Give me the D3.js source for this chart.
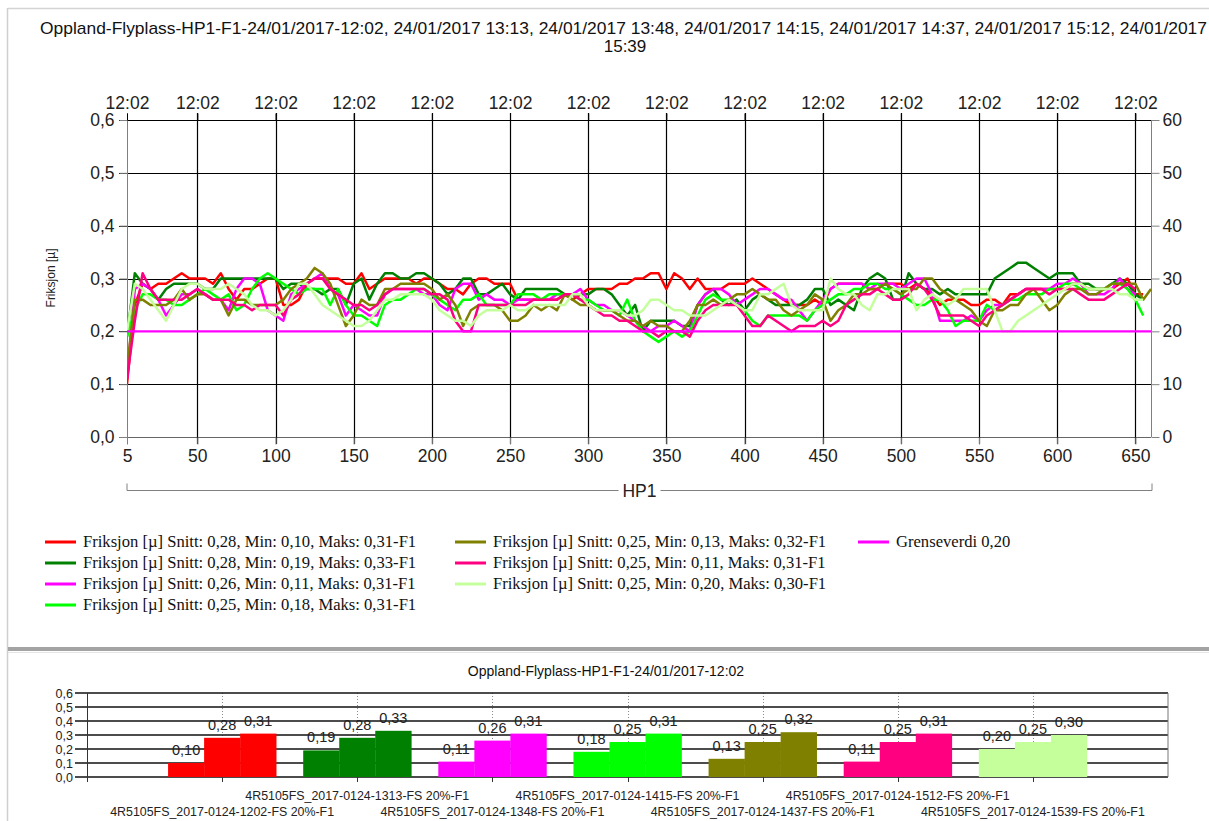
<!DOCTYPE html>
<html>
<head>
<meta charset="utf-8">
<script src="https://cdn.jsdelivr.net/npm/d3@7"></script>
<style>
  html, body { margin: 0; padding: 0; background: #fff; }
  svg { display: block; }
</style>
</head>
<body>
<svg id="chart" width="1209" height="821"></svg>
<script>
// ---------------- DATA ----------------
const chartTitle1 = "Oppland-Flyplass-HP1-F1-24/01/2017-12:02, 24/01/2017 13:13, 24/01/2017 13:48, 24/01/2017 14:15, 24/01/2017 14:37, 24/01/2017 15:12, 24/01/2017";
const chartTitle2 = "15:39";
const barTitle = "Oppland-Flyplass-HP1-F1-24/01/2017-12:02";
const xAxisName = "HP1";
const yAxisName = "Friksjon [µ]";

const distance = [5,10,15,20,25,30,35,40,45,50,55,60,65,70,75,80,85,90,95,100,
  105,110,115,120,125,130,135,140,145,150,155,160,165,170,175,180,185,190,195,200,
  205,210,215,220,225,230,235,240,245,250,255,260,265,270,275,280,285,290,295,300,
  305,310,315,320,325,330,335,340,345,350,355,360,365,370,375,380,385,390,395,400,
  405,410,415,420,425,430,435,440,445,450,455,460,465,470,475,480,485,490,495,500,
  505,510,515,520,525,530,535,540,545,550,555,560,565,570,575,580,585,590,595,600,
  605,610,615,620,625,630,635,640,645,650,655,660];

const xTicks = [5,50,100,150,200,250,300,350,400,450,500,550,600,650];
const topTickLabel = "12:02";
const yTicks = [0,0.1,0.2,0.3,0.4,0.5,0.6];
const yRightTicks = [0,10,20,30,40,50,60];
const limitValue = 0.20;

const seriesColors = ["#ff0000","#008000","#ff00ff","#00ff00","#808000","#ff0080","#c4ff9c"];
const limitColor = "#ff00ff";

const redVals = [0.10,0.25,0.29,0.28,0.29,0.29,0.30,0.31,0.30,0.30,
  0.30,0.29,0.31,0.28,0.26,0.28,0.28,0.29,0.30,0.30,
  0.25,0.25,0.26,0.29,0.30,0.30,0.30,0.30,0.29,0.29,
  0.31,0.28,0.29,0.30,0.30,0.30,0.30,0.29,0.30,0.30,
  0.29,0.28,0.28,0.27,0.29,0.30,0.30,0.29,0.29,0.29,
  0.26,0.26,0.26,0.26,0.26,0.26,0.27,0.26,0.27,0.28,
  0.28,0.28,0.28,0.29,0.29,0.30,0.30,0.31,0.31,0.28,
  0.31,0.30,0.28,0.30,0.28,0.28,0.28,0.29,0.29,0.29,
  0.30,0.29,0.28,0.27,0.26,0.25,0.25,0.25,0.26,0.25,
  0.28,0.29,0.29,0.29,0.29,0.28,0.28,0.29,0.29,0.29,
  0.28,0.29,0.28,0.27,0.25,0.26,0.26,0.26,0.25,0.25,
  0.26,0.26,0.25,0.27,0.27,0.28,0.28,0.28,0.28,0.28,
  0.28,0.29,0.29,0.28,0.28,0.28,0.28,0.29,0.30,0.27,
  0.27];
const darkGreenVals = [0.19,0.31,0.29,0.28,0.26,0.28,0.29,0.29,0.29,0.29,
  0.28,0.28,0.30,0.30,0.30,0.30,0.30,0.30,0.30,0.30,
  0.28,0.29,0.29,0.28,0.28,0.27,0.28,0.28,0.25,0.29,
  0.30,0.26,0.29,0.31,0.31,0.30,0.30,0.31,0.31,0.30,
  0.29,0.27,0.28,0.30,0.30,0.27,0.27,0.28,0.29,0.27,
  0.26,0.28,0.28,0.28,0.28,0.28,0.27,0.27,0.27,0.27,
  0.28,0.28,0.27,0.25,0.23,0.25,0.20,0.22,0.22,0.22,
  0.22,0.21,0.21,0.25,0.27,0.28,0.26,0.25,0.26,0.24,
  0.26,0.27,0.26,0.25,0.25,0.25,0.25,0.26,0.28,0.28,
  0.25,0.26,0.25,0.24,0.28,0.30,0.31,0.30,0.26,0.26,
  0.31,0.29,0.28,0.28,0.27,0.28,0.27,0.27,0.27,0.27,
  0.27,0.30,0.31,0.32,0.33,0.33,0.32,0.31,0.30,0.31,
  0.31,0.31,0.29,0.29,0.28,0.28,0.29,0.30,0.29,0.27,
  0.26];
const magentaVals = [0.11,0.28,0.29,0.28,0.26,0.23,0.25,0.27,0.27,0.28,
  0.27,0.26,0.26,0.24,0.28,0.30,0.30,0.29,0.24,0.23,
  0.22,0.27,0.28,0.29,0.30,0.31,0.28,0.27,0.23,0.25,
  0.24,0.23,0.23,0.27,0.28,0.28,0.28,0.28,0.27,0.27,
  0.25,0.24,0.28,0.29,0.29,0.26,0.27,0.26,0.26,0.25,
  0.26,0.26,0.26,0.26,0.26,0.27,0.27,0.27,0.28,0.26,
  0.25,0.25,0.24,0.24,0.23,0.22,0.21,0.20,0.21,0.21,
  0.22,0.21,0.20,0.25,0.27,0.28,0.28,0.27,0.25,0.26,
  0.27,0.28,0.28,0.27,0.26,0.26,0.24,0.22,0.24,0.26,
  0.28,0.29,0.29,0.29,0.29,0.28,0.29,0.29,0.29,0.28,
  0.29,0.30,0.30,0.27,0.22,0.22,0.22,0.22,0.23,0.22,
  0.24,0.25,0.25,0.26,0.27,0.28,0.28,0.28,0.28,0.29,
  0.29,0.30,0.29,0.27,0.27,0.27,0.28,0.30,0.28,0.27];
const limeVals = [0.19,0.24,0.27,0.27,0.26,0.26,0.25,0.25,0.26,0.27,
  0.28,0.27,0.26,0.27,0.24,0.25,0.28,0.30,0.31,0.30,
  0.29,0.28,0.27,0.28,0.28,0.28,0.25,0.28,0.25,0.23,
  0.23,0.22,0.21,0.25,0.26,0.26,0.27,0.28,0.28,0.27,
  0.26,0.25,0.24,0.26,0.26,0.27,0.25,0.25,0.25,0.25,
  0.27,0.27,0.27,0.26,0.27,0.27,0.27,0.27,0.26,0.26,
  0.25,0.24,0.24,0.23,0.26,0.22,0.20,0.19,0.18,0.19,
  0.20,0.19,0.20,0.23,0.26,0.27,0.26,0.26,0.25,0.24,
  0.22,0.21,0.23,0.23,0.23,0.23,0.23,0.22,0.24,0.25,
  0.26,0.27,0.27,0.28,0.28,0.29,0.29,0.28,0.28,0.27,
  0.26,0.25,0.25,0.26,0.26,0.24,0.21,0.22,0.22,0.22,
  0.25,0.24,0.25,0.26,0.26,0.27,0.27,0.27,0.28,0.28,
  0.29,0.29,0.28,0.28,0.28,0.28,0.29,0.29,0.28,0.26,
  0.23];
const oliveVals = [0.13,0.26,0.26,0.25,0.25,0.25,0.26,0.28,0.26,0.27,
  0.27,0.26,0.26,0.23,0.26,0.26,0.25,0.25,0.25,0.25,
  0.26,0.28,0.29,0.30,0.32,0.31,0.29,0.25,0.21,0.23,
  0.26,0.25,0.25,0.28,0.28,0.29,0.29,0.29,0.29,0.28,
  0.26,0.27,0.25,0.21,0.24,0.25,0.25,0.25,0.24,0.22,
  0.22,0.23,0.25,0.24,0.25,0.24,0.27,0.26,0.25,0.25,
  0.24,0.24,0.24,0.23,0.22,0.22,0.21,0.22,0.21,0.21,
  0.20,0.20,0.22,0.25,0.25,0.26,0.25,0.26,0.27,0.27,
  0.28,0.27,0.26,0.26,0.24,0.23,0.24,0.25,0.27,0.26,
  0.22,0.24,0.25,0.27,0.27,0.28,0.28,0.29,0.28,0.27,
  0.28,0.28,0.30,0.30,0.28,0.27,0.26,0.25,0.24,0.22,
  0.21,0.24,0.24,0.25,0.25,0.27,0.28,0.26,0.24,0.25,
  0.27,0.28,0.28,0.27,0.27,0.28,0.29,0.29,0.29,0.29,
  0.26,0.28];
const pinkVals = [0.11,0.22,0.31,0.28,0.26,0.26,0.26,0.26,0.27,0.28,
  0.27,0.26,0.26,0.26,0.25,0.25,0.24,0.25,0.25,0.25,
  0.23,0.26,0.27,0.29,0.30,0.30,0.28,0.27,0.26,0.25,
  0.25,0.24,0.25,0.27,0.28,0.28,0.28,0.28,0.28,0.27,
  0.27,0.26,0.22,0.20,0.20,0.25,0.25,0.25,0.25,0.25,
  0.25,0.25,0.26,0.26,0.26,0.26,0.27,0.27,0.26,0.25,
  0.24,0.23,0.23,0.22,0.22,0.21,0.20,0.20,0.19,0.20,
  0.20,0.20,0.19,0.22,0.24,0.25,0.25,0.25,0.25,0.23,
  0.21,0.21,0.23,0.22,0.21,0.20,0.21,0.21,0.21,0.22,
  0.21,0.22,0.25,0.26,0.27,0.27,0.28,0.27,0.26,0.26,
  0.27,0.29,0.28,0.26,0.23,0.23,0.23,0.23,0.22,0.21,
  0.23,0.24,0.25,0.26,0.27,0.28,0.28,0.28,0.27,0.28,
  0.28,0.28,0.27,0.26,0.26,0.26,0.27,0.28,0.29,0.28];
const lightGreenVals = [0.20,0.29,0.28,0.26,0.24,0.22,0.25,0.28,0.29,0.29,
  0.28,0.28,0.28,0.29,0.28,0.27,0.25,0.24,0.24,0.23,
  0.24,0.26,0.29,0.29,0.27,0.25,0.24,0.23,0.22,0.21,
  0.21,0.22,0.24,0.26,0.26,0.27,0.27,0.27,0.27,0.26,
  0.24,0.23,0.22,0.22,0.21,0.23,0.24,0.24,0.24,0.25,
  0.24,0.24,0.25,0.25,0.25,0.25,0.25,0.27,0.27,0.25,
  0.24,0.24,0.24,0.24,0.23,0.23,0.24,0.26,0.26,0.25,
  0.24,0.24,0.23,0.23,0.23,0.24,0.25,0.26,0.25,0.24,
  0.24,0.27,0.27,0.28,0.29,0.25,0.24,0.24,0.24,0.24,
  0.30,0.28,0.27,0.27,0.25,0.24,0.27,0.27,0.28,0.28,
  0.28,0.24,0.26,0.27,0.26,0.25,0.26,0.28,0.28,0.28,
  0.28,0.24,0.20,0.20,0.22,0.23,0.24,0.25,0.26,0.27,
  0.28,0.29,0.29,0.28,0.28,0.28,0.28,0.27,0.27,0.26,
  0.26];

// summary statistics (legend + bar chart)
const statMin  = [0.10,0.19,0.11,0.18,0.13,0.11,0.20];
const statAvg  = [0.28,0.28,0.26,0.25,0.25,0.25,0.25];
const statMax  = [0.31,0.33,0.31,0.31,0.32,0.31,0.30];
const runNames = ["4R5105FS_2017-0124-1202-FS 20%-F1","4R5105FS_2017-0124-1313-FS 20%-F1",
  "4R5105FS_2017-0124-1348-FS 20%-F1","4R5105FS_2017-0124-1415-FS 20%-F1",
  "4R5105FS_2017-0124-1437-FS 20%-F1","4R5105FS_2017-0124-1512-FS 20%-F1",
  "4R5105FS_2017-0124-1539-FS 20%-F1"];
const limitLabel = "Grenseverdi 0,20";

// --------------- RENDER ----------------
const locale = d3.formatLocale({decimal: ",", thousands: " ", grouping: [3], currency: ["", ""]});
const f1 = locale.format(".1f");
const f2 = locale.format(".2f");

const allSeries = [redVals, darkGreenVals, magentaVals, limeVals, oliveVals, pinkVals, lightGreenVals];
const svg = d3.select("#chart");
const sans = "'Liberation Sans', Arial, sans-serif";
const serif = "'Liberation Serif', 'Times New Roman', serif";
const axisFont = 17.5;

// frame
svg.append("line").attr("x1", 8).attr("x2", 1209).attr("y1", 8.5).attr("y2", 8.5).attr("stroke", "#d4d4d4").attr("stroke-width", 1.5);
svg.append("line").attr("x1", 7.5).attr("x2", 7.5).attr("y1", 8).attr("y2", 821).attr("stroke", "#cfcfcf").attr("stroke-width", 1.5);
svg.append("rect").attr("x", 8).attr("y", 647).attr("width", 1201).attr("height", 4).attr("fill", "#a3a3a3");
svg.append("line").attr("x1", 8).attr("x2", 1209).attr("y1", 652.5).attr("y2", 652.5).attr("stroke", "#e4e4e4");

// titles
svg.append("text").attr("x", 40).attr("y", 34).attr("textLength", 1167).attr("lengthAdjust", "spacingAndGlyphs")
  .attr("font-family", "'Liberation Sans Narrow', " + sans).attr("font-size", 17).attr("fill", "#111").text(chartTitle1);
svg.append("text").attr("x", 625).attr("y", 52).attr("text-anchor", "middle")
  .attr("font-family", "'Liberation Sans Narrow', " + sans).attr("font-size", 17).attr("fill", "#111").text(chartTitle2);

// main chart scales
const x = d3.scaleLinear().domain([5, 660]).range([127, 1151]);
const y = d3.scaleLinear().domain([0, 0.6]).range([437, 120]);
const yR = d3.scaleLinear().domain([0, 60]).range([437, 120]);

const main = svg.append("g");
// horizontal grid
main.selectAll("line.hg").data(yTicks).join("line")
  .attr("x1", 119).attr("x2", 1151).attr("y1", d => Math.round(y(d)) + 0.5).attr("y2", d => Math.round(y(d)) + 0.5)
  .attr("stroke", d => d === 0 ? "#666" : "#000").attr("stroke-width", 1.2);
// vertical grid
main.selectAll("line.vg").data(xTicks.filter(d => d !== 5)).join("line")
  .attr("x1", d => Math.round(x(d)) + 0.5).attr("x2", d => Math.round(x(d)) + 0.5).attr("y1", 113).attr("y2", 444)
  .attr("stroke", "#000").attr("stroke-width", 1.2);

// left axis
const axL = main.append("g").attr("transform", "translate(127.5,0)")
  .call(d3.axisLeft(y).tickValues(yTicks).tickSize(8).tickFormat(f1));
axL.select(".domain").attr("stroke", "#808080").attr("d", "M0,113V444");
axL.selectAll(".tick line").attr("stroke", "#808080");
axL.selectAll("text").attr("font-family", sans).attr("font-size", axisFont).attr("fill", "#222").attr("x", -13);

// right axis
const axR = main.append("g").attr("transform", "translate(1151.5,0)")
  .call(d3.axisRight(yR).tickValues(yRightTicks).tickSize(8).tickFormat(d3.format("d")));
axR.select(".domain").attr("stroke", "#808080").attr("d", "M0,120V437");
axR.selectAll(".tick line").attr("stroke", "#808080");
axR.selectAll("text").attr("font-family", sans).attr("font-size", axisFont).attr("fill", "#222").attr("x", 11);

// bottom axis
const axB = main.append("g").attr("transform", "translate(0,437.5)")
  .call(d3.axisBottom(x).tickValues(xTicks).tickSize(7).tickFormat(d3.format("d")));
axB.select(".domain").remove();
axB.selectAll(".tick line").attr("stroke", "#808080");
axB.selectAll("text").attr("font-family", sans).attr("font-size", axisFont).attr("fill", "#222").attr("y", 12);

// top axis
const axT = main.append("g").attr("transform", "translate(0,120.5)")
  .call(d3.axisTop(x).tickValues(xTicks).tickSize(7).tickFormat(() => topTickLabel));
axT.select(".domain").remove();
axT.selectAll(".tick line").attr("stroke", "#000");
axT.selectAll("text").attr("font-family", sans).attr("font-size", axisFont).attr("fill", "#222").attr("y", -12);

// y axis name
svg.append("text").attr("transform", "translate(55,278) rotate(-90)").attr("text-anchor", "middle")
  .attr("font-family", sans).attr("font-size", 12).attr("fill", "#222").text(yAxisName);

// HP1 bracket
const bx0 = x.range()[0], bx1 = x.range()[1] + 1, by = 490.5;
svg.append("text").attr("x", (bx0 + bx1) / 2).attr("y", by + 6).attr("text-anchor", "middle")
  .attr("font-family", sans).attr("font-size", axisFont).attr("fill", "#222").text(xAxisName);
const gap = 21;
svg.append("path").attr("fill", "none").attr("stroke", "#808080")
  .attr("d", `M${bx0},${by - 7}V${by}H${(bx0 + bx1) / 2 - gap}M${(bx0 + bx1) / 2 + gap},${by}H${bx1}V${by - 7}`);

// lines
const line = d3.line().x((d, i) => x(distance[i])).y(d => y(d));
svg.append("defs").append("clipPath").attr("id", "plotclip").append("rect")
  .attr("x", 127).attr("y", 110).attr("width", 1025).attr("height", 330);
const linesG = svg.append("g").attr("clip-path", "url(#plotclip)");
allSeries.forEach((vals, k) => {
  linesG.append("path").datum(vals).attr("fill", "none").attr("stroke", seriesColors[k])
    .attr("stroke-width", 2.5).attr("stroke-linejoin", "round").attr("d", line);
});
linesG.append("line").attr("x1", x(5)).attr("x2", x(660)).attr("y1", y(limitValue)).attr("y2", y(limitValue))
  .attr("stroke", limitColor).attr("stroke-width", 2.2);

// legend
const legendItems = seriesColors.map((c, k) => ({
  color: c,
  label: `Friksjon [µ] Snitt: ${f2(statAvg[k])}, Min: ${f2(statMin[k])}, Maks: ${f2(statMax[k])}-F1`
}));
legendItems.push({color: limitColor, label: limitLabel});
const legCols = [45, 455, 858];
const legRows = [542, 563, 584, 605];
const legPos = [[0,0],[0,1],[0,2],[0,3],[1,0],[1,1],[1,2],[2,0]];
const leg = svg.append("g");
legendItems.forEach((it, k) => {
  const lx = legCols[legPos[k][0]], ly = legRows[legPos[k][1]];
  leg.append("line").attr("x1", lx).attr("x2", lx + 31).attr("y1", ly).attr("y2", ly)
    .attr("stroke", it.color).attr("stroke-width", 3);
  leg.append("text").attr("x", lx + 38).attr("y", ly + 5).attr("font-family", serif).attr("font-size", 16.6)
    .attr("fill", "#111").text(it.label);
});

// ---------------- bar chart ----------------
svg.append("text").attr("x", 606).attr("y", 676).attr("text-anchor", "middle")
  .attr("font-family", sans).attr("font-size", 14).attr("fill", "#111").text(barTitle);

const xb = d3.scaleLinear().domain([0, runNames.length + 1]).range([87, 1168]);
const yb = d3.scaleLinear().domain([0, 0.6]).range([777, 693]);
const band = xb(1) - xb(0);
const bw = band * 0.8 / 3;
const bar = svg.append("g");

// dotted category lines
bar.selectAll("line.dl").data(runNames).join("line")
  .attr("x1", (d, i) => Math.round(xb(i + 1)) + 0.5).attr("x2", (d, i) => Math.round(xb(i + 1)) + 0.5)
  .attr("y1", 693).attr("y2", 777).attr("stroke", "#8a8a8a").attr("stroke-dasharray", "1,2");
// horizontal grid
bar.selectAll("line.bg").data(yTicks).join("line")
  .attr("x1", 75).attr("x2", 1168).attr("y1", d => yb(d)).attr("y2", d => yb(d))
  .attr("stroke", "#111").attr("stroke-width", 1.4);
// axes box
bar.append("line").attr("x1", 87.5).attr("x2", 87.5).attr("y1", 693).attr("y2", 782).attr("stroke", "#333");
bar.append("line").attr("x1", 1168).attr("x2", 1168).attr("y1", 693).attr("y2", 777).attr("stroke", "#777");
bar.selectAll("line.bt").data(runNames).join("line")
  .attr("x1", (d, i) => Math.round(xb(i + 1)) + 0.5).attr("x2", (d, i) => Math.round(xb(i + 1)) + 0.5)
  .attr("y1", 777).attr("y2", 782).attr("stroke", "#333");
// y labels
bar.selectAll("text.yl").data(yTicks).join("text")
  .attr("x", 73).attr("y", d => yb(d) + 4.5).attr("text-anchor", "end")
  .attr("font-family", sans).attr("font-size", 12.5).attr("fill", "#222").text(d => f1(d));

// bars
const barData = [];
runNames.forEach((name, i) => {
  [statMin[i], statAvg[i], statMax[i]].forEach((v, j) => {
    barData.push({i, j, v, color: seriesColors[i]});
  });
});
bar.selectAll("rect.b").data(barData).join("rect")
  .attr("x", d => xb(d.i + 1) - 1.5 * bw + d.j * bw).attr("width", bw + 0.3)
  .attr("y", d => yb(d.v)).attr("height", d => yb(0) - yb(d.v)).attr("fill", d => d.color);
bar.selectAll("text.bv").data(barData).join("text")
  .attr("x", d => xb(d.i + 1) - 1.5 * bw + d.j * bw + bw / 2).attr("y", d => yb(d.v) - 8)
  .attr("text-anchor", "middle").attr("font-family", sans).attr("font-size", 14.5).attr("fill", "#222")
  .text(d => f2(d.v));
// category labels
bar.selectAll("text.cl").data(runNames).join("text")
  .attr("x", (d, i) => xb(i + 1)).attr("y", (d, i) => i % 2 === 1 ? 800 : 816)
  .attr("text-anchor", "middle").attr("font-family", sans).attr("font-size", 12.4).attr("fill", "#222")
  .text(d => d);
</script>
</body>
</html>
